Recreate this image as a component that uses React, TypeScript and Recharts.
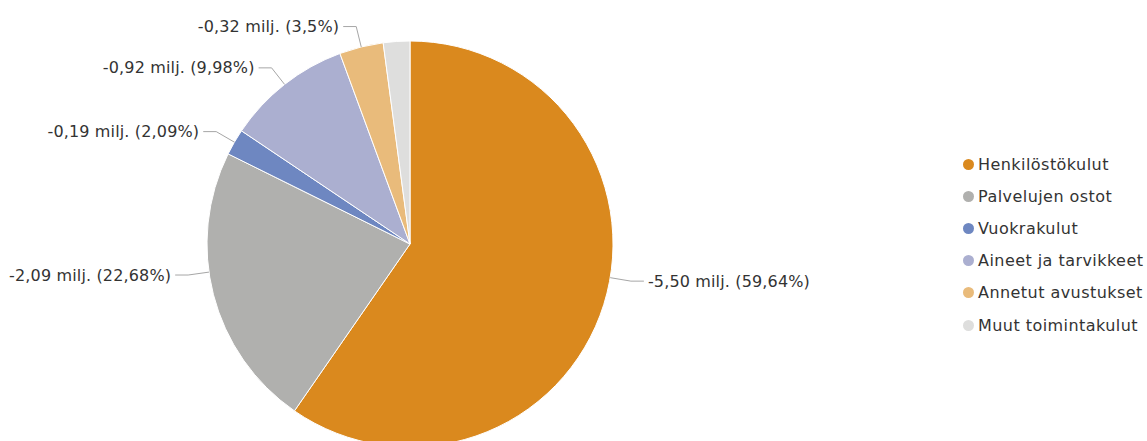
import React from "react";
import { PieChart, Pie, Cell, Legend } from "recharts";

const categories = [
  "Henkilöstökulut",
  "Palvelujen ostot",
  "Vuokrakulut",
  "Aineet ja tarvikkeet",
  "Annetut avustukset",
  "Muut toimintakulut",
];
// amounts in million euros, as printed in the labels
const amounts = [-5.5, -2.09, -0.19, -0.92, -0.32, -0.19];
// shares in percent, as printed in the labels
const shares = [59.64, 22.68, 2.09, 9.98, 3.5, 2.11];
const colors = ["#da891e", "#b0b0ae", "#6e87c1", "#abafd0", "#e9bb7b", "#dededd"];

const data = categories.map((name, i) => ({
  name,
  amount: amounts[i],
  share: shares[i],
}));

const FONT = "'DejaVu Sans', Verdana, sans-serif";
const RADIAN = Math.PI / 180;

const fmtAmount = (v: number) => v.toFixed(2).replace(".", ",");
const fmtShare = (v: number) => String(v).replace(".", ",");

const renderLabel = (props: any) => {
  const { cx, cy, midAngle, outerRadius, index } = props;
  // the last small slice has its label hidden (overlap)
  if (index === data.length - 1) return null;
  let ang = -midAngle * RADIAN;
  const c = Math.cos(ang);
  const s = Math.sin(ang);
  // labels below the centre line are pulled towards the horizontal
  if (s > 0) {
    const below = Math.asin(Math.min(1, s)) * 0.55;
    ang = c >= 0 ? below : Math.PI - below;
  }
  const cosA = Math.cos(ang);
  const sinA = Math.sin(ang);
  const sx = cx + outerRadius * cosA;
  const sy = cy + outerRadius * sinA;
  const bx = cx + (outerRadius + 21) * cosA;
  const by = cy + (outerRadius + 21) * sinA;
  const right = cosA >= 0;
  const ex = bx + (right ? 13 : -13);
  const tx = ex + (right ? 4 : -4);
  const d = data[index];
  return (
    <g>
      <path
        d={`M${sx},${sy}L${bx},${by}L${ex},${by}`}
        stroke="#a6a6a6"
        strokeWidth={1}
        fill="none"
      />
      <text
        x={tx}
        y={by}
        textAnchor={right ? "start" : "end"}
        dominantBaseline="central"
        fill="#333333"
        fontSize={16}
        letterSpacing={0.15}
        fontFamily={FONT}
      >
        {`${fmtAmount(d.amount)} milj. (${fmtShare(d.share)}%)`}
      </text>
    </g>
  );
};

const renderLegend = () => (
  <ul style={{ listStyle: "none", margin: 0, padding: 0 }}>
    {categories.map((name, i) => (
      <li
        key={name}
        style={{
          height: 32.2,
          display: "flex",
          alignItems: "center",
          fontFamily: FONT,
          fontSize: 16,
          letterSpacing: 0.45,
          color: "#333333",
          whiteSpace: "nowrap",
        }}
      >
        <span
          style={{
            display: "inline-block",
            width: 11,
            height: 11,
            borderRadius: "50%",
            background: colors[i],
            marginRight: 4,
          }}
        />
        {name}
      </li>
    ))}
  </ul>
);

export default function App() {
  return (
    <div style={{ position: "absolute", left: 0, top: 0, width: 1147, height: 441, overflow: "hidden", background: "#fff" }}>
      <PieChart width={1147} height={441} margin={{ top: 0, right: 0, bottom: 0, left: 0 }}>
        <Pie
          data={data}
          dataKey="share"
          nameKey="name"
          cx={410}
          cy={244}
          outerRadius={203}
          startAngle={90}
          endAngle={-270}
          stroke="#ffffff"
          strokeWidth={1}
          label={renderLabel}
          labelLine={false}
          isAnimationActive={false}
        >
          {data.map((d, i) => (
            <Cell key={d.name} fill={colors[i]} />
          ))}
        </Pie>
        <Legend
          content={renderLegend}
          wrapperStyle={{ position: "absolute", left: 963, top: 148, width: 200 }}
        />
      </PieChart>
    </div>
  );
}
